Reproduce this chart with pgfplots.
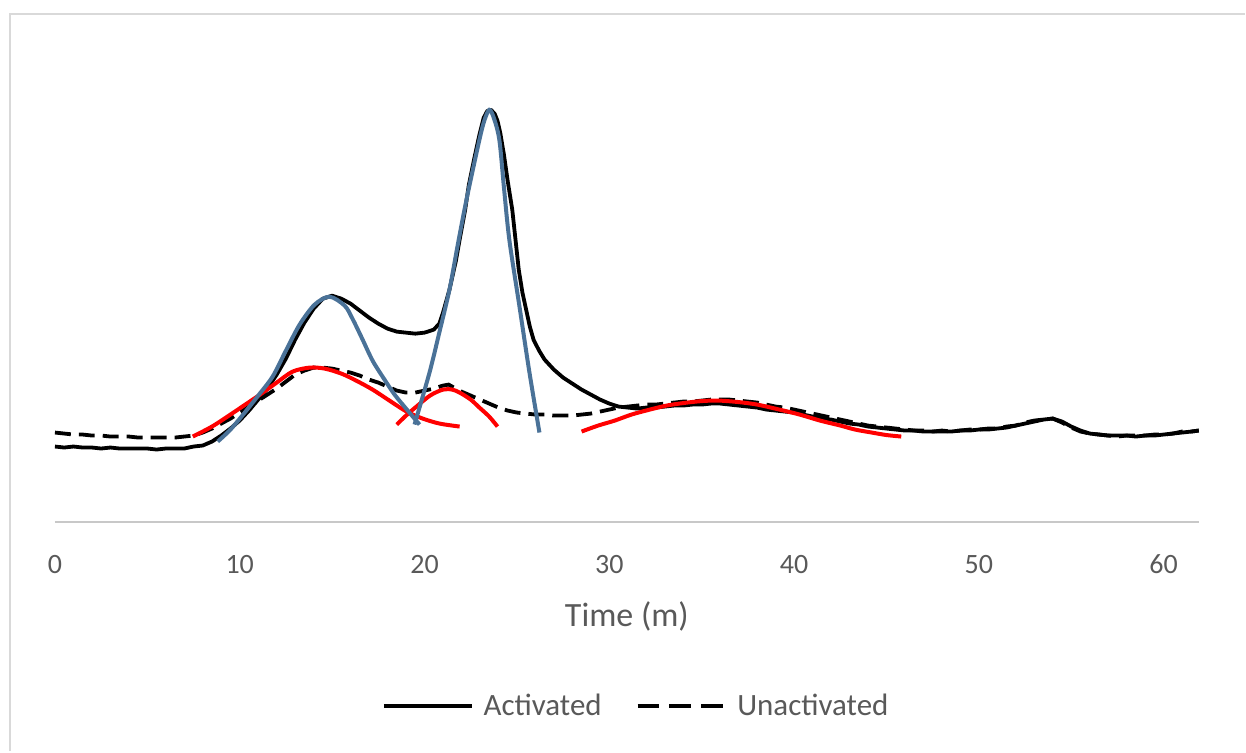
\documentclass[border=0pt]{standalone}
\usepackage{pgfplots}
\pgfplotsset{compat=1.18}
\usepackage{fontspec}
\setmainfont{Carlito}
\definecolor{txt}{HTML}{595959}
\definecolor{axisgray}{HTML}{C8C8C8}
\definecolor{bordergray}{HTML}{D9D9D9}
\definecolor{fitblue}{HTML}{4A7298}
\definecolor{fitred}{HTML}{FF0000}
\begin{document}
\begin{tikzpicture}
\path (-27.5pt,-114.5pt) rectangle (595.5pt,261.5pt);
\draw[color=bordergray, line width=1.3pt] (-22.5pt,-114.5pt) -- (-22.5pt,254.5pt) -- (595.5pt,254.5pt);
\begin{axis}[
  scale only axis, width=572.5pt, height=241.5pt,
  xmin=0, xmax=61.9, ymin=0, ymax=483,
  hide y axis,
  axis x line*=bottom,
  x axis line style={-, draw=axisgray, line width=1pt},
  xtick={0,10,...,60},
  xtick style={draw=none},
  major tick length=0pt,
  /pgf/number format/assume math mode=true,
  xticklabel style={font=\fontsize{14}{16}\selectfont, text=txt, anchor=base, yshift=-25.5pt},
  xlabel={Time (m)},
  xlabel style={font=\fontsize{17}{19}\selectfont, text=txt, at={(axis description cs:0.5,0)}, anchor=base, yshift=-52pt},
  legend style={at={(axis description cs:0.509,0)}, anchor=center, yshift=-92pt, draw=none, fill=none,
    font=\fontsize{15.5}{17}\selectfont, text=txt, legend columns=2,
    /tikz/every even column/.append style={column sep=15pt},
    /tikz/every odd column/.append style={column sep=3pt}},
  legend image code/.code={\draw[#1] (0pt,0pt) -- (44pt,0pt);},
  clip=false,
]
\addplot[black, line width=1.9pt, line join=round] coordinates {
(0,76) (0.5,75) (1,76) (1.5,75) (2,75) (2.5,74) (3,75) (3.5,74) (4,74) (4.5,74) (5,74) (5.5,73) (6,74) (6.5,74) (7,74) (7.5,76) (8,77) (8.5,81) (9,87) (9.5,94) (10,102) (10.5,112) (11,123) (11.5,134) (12,148) (12.5,164) (13,183) (13.5,200) (14,214) (14.5,224) (15,227) (15.5,224) (16,219) (16.5,212) (17,205) (17.5,199) (18,194) (18.5,191) (19,190) (19.5,189) (20,190) (20.5,193) (20.8,199) (21,210) (21.35,233) (21.7,262) (21.9,283) (22.2,313) (22.4,338) (22.7,365) (22.97,388) (23.2,405) (23.4,412) (23.6,413) (23.8,409) (23.95,402) (24.1,390) (24.3,368) (24.5,342) (24.75,313) (25.1,253) (25.3,230) (25.5,213) (25.7,196) (25.9,183) (26.2,172) (26.5,163) (27,153) (27.5,145) (28,139) (28.5,133) (29,128) (29.5,123) (30,119) (30.5,116) (31,115) (31.5,114) (32,115) (32.5,115) (33,116) (33.5,117) (34,117) (34.5,118) (35,118) (35.5,119) (36,119) (36.5,118) (37,117) (37.5,116) (38,115) (38.5,113) (39,112) (39.5,111) (40,110) (40.5,108) (41,106) (41.5,104) (42,103) (42.5,101) (43,99) (43.5,98) (44,96) (44.5,95) (45,94) (45.5,93) (46,92) (46.5,92) (47,91) (47.5,91) (48,91) (48.5,91) (49,92) (49.5,92) (50,93) (50.5,93) (51,94) (51.5,95) (52,97) (52.5,99) (53,101) (53.5,103) (54,104) (54.5,101) (55,96) (55.5,92) (56,89) (56.5,88) (57,87) (57.5,87) (58,87) (58.5,86) (59,87) (59.5,87) (60,88) (60.5,89) (61,90) (61.5,91) (61.9,92)
};
\addlegendentry{Activated}
\addplot[black, line width=1.9pt, dash pattern=on 8pt off 4pt, legend image post style={dash pattern=on 11pt off 5pt}] coordinates {
(0,90) (0.5,89) (1,88) (1.5,88) (2,87) (2.5,87) (3,86) (3.5,86) (4,86) (4.5,85) (5,85) (5.5,85) (6,85) (6.5,85) (7,86) (7.5,87) (8,90) (8.5,94) (9,99) (9.5,104) (10,110) (10.5,116) (11,122) (11.5,128) (12,134) (12.5,141) (13,148) (13.5,152) (14,155) (14.5,155) (15,154) (15.5,152) (16,150) (16.5,147) (17,143) (17.5,140) (18,136) (18.5,132) (19,130) (19.5,130) (20,132) (20.5,134) (21,137) (21.3,138) (21.6,135) (22,131) (22.5,127) (23,123) (23.5,119) (24,115) (24.5,112) (25,110) (25.5,109) (26,108) (26.5,108) (27,107) (27.5,107) (28,107) (28.5,108) (29,109) (29.5,111) (30,113) (30.5,115) (31,116) (31.5,117) (32,118) (32.5,118) (33,119) (33.5,120) (34,121) (34.5,121) (35,122) (35.5,123) (36,123) (36.5,123) (37,122) (37.5,121) (38,120) (38.5,118) (39,116) (39.5,115) (40,113) (40.5,111) (41,109) (41.5,107) (42,105) (42.5,103) (43,101) (43.5,99) (44,97) (44.5,96) (45,95) (45.5,94) (46,93) (46.5,92) (47,92) (47.5,91) (48,92) (48.5,91) (49,92) (49.5,93) (50,93) (50.5,94) (51,94) (51.5,96) (52,97) (52.5,100) (53,102) (53.5,103) (54,104) (54.5,100) (55,95) (55.5,91) (56,89) (56.5,88) (57,87) (57.5,86) (58,87) (58.5,87) (59,87) (59.5,88) (60,88) (60.5,89) (61,91) (61.5,91) (61.9,92)
};
\addlegendentry{Unactivated}
\addplot[fitred, line width=2pt, smooth, forget plot] coordinates {
(7.46,86) (8.5,96) (9.5,108) (10.3,118) (11.1,128) (12,140) (12.86,151) (13.78,155) (14.6,154) (15.5,149) (16.3,142) (17.19,133) (18.1,122) (19.03,111) (19.9,104) (20.81,99) (21.9,96)
};
\addplot[fitred, line width=2pt, smooth, forget plot] coordinates {
(18.5,98) (19.0,107) (19.5,115) (20.3,127) (21.0,133) (21.5,133) (21.9,130) (22.5,123) (22.97,115) (23.5,106) (23.95,96)
};
\addplot[fitred, line width=2pt, smooth, forget plot] coordinates {
(28.5,91) (29.4,97) (30.3,102) (31.2,108) (32.2,113) (33.1,117) (34,119.5) (35,121.5) (35.9,122) (37,120.5) (38,118) (39.2,113) (40.3,108) (41.4,102) (42.5,97) (43.3,93) (44.2,90) (45,87.5) (45.8,86)
};
\addplot[fitblue, line width=2pt, smooth, forget plot] coordinates {
(8.81,81) (9.5,93) (10.27,110) (11,127) (11.78,146) (12.5,172) (13.24,198) (14.05,218) (14.86,226) (15.68,217) (16.1,204) (16.6,185) (17.19,162) (17.8,144) (18.38,128) (19.0,114) (19.73,98)
};
\addplot[fitblue, line width=2pt, smooth, forget plot] coordinates {
(19.46,98) (20.27,150) (20.8,190) (21.35,233) (21.8,278) (22.27,323) (22.97,383) (23.25,403) (23.51,413) (23.75,405) (24.05,383) (24.3,335) (24.59,283) (25.14,216) (25.68,150) (26.22,90)
};
\end{axis}
\end{tikzpicture}
\end{document}
